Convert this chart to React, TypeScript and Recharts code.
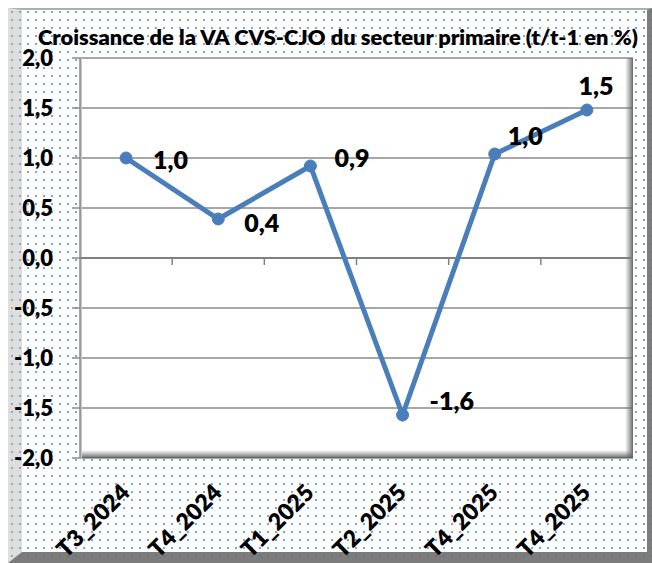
import React from 'react';
import {
  LineChart,
  Line,
  XAxis,
  YAxis,
  CartesianGrid,
  ReferenceLine,
  ReferenceArea,
  LabelList,
} from 'recharts';

const categories = ['T3_2024', 'T4_2024', 'T1_2025', 'T2_2025', 'T4_2025', 'T4_2025'];
const growth = [1.0, 0.39, 0.92, -1.57, 1.04, 1.48];
const yTicks = [-2, -1.5, -1, -0.5, 0, 0.5, 1, 1.5, 2];
const title = 'Croissance de la VA CVS-CJO du secteur primaire (t/t-1 en %)';

const FONT = 'Lato, "Open Sans", sans-serif';
const BLUE = '#4a7ebb';
const GRID = '#8a8a8a';

// label placement (style only)
const labelPlacement = [
  { dx: 27, dy: 1, anchor: 'start' },
  { dx: 26, dy: 3, anchor: 'start' },
  { dx: 24, dy: -9, anchor: 'start' },
  { dx: 27, dy: -15, anchor: 'start' },
  { dx: 13, dy: -19, anchor: 'start' },
  { dx: 9, dy: -25, anchor: 'middle' },
];

const data = categories.map((c, i) => ({ idx: i, cat: c, value: growth[i] }));
const boundaries = categories.slice(1).map((_, i) => i + 0.5);

const fmt = (v: number) => v.toFixed(1).replace('.', ',');

const XTick = (props: any) => {
  const { x, y, payload } = props;
  const label = categories[payload.value] ?? '';
  const tx = x + 5;
  const ty = y + 28;
  return (
    <text
      x={tx}
      y={ty}
      transform={`rotate(-45, ${tx}, ${ty})`}
      textAnchor="end"
      fill="#000"
      fontFamily={FONT}
      fontWeight={800}
      fontSize={23}
    >
      {label}
    </text>
  );
};

const DataLabel = (props: any) => {
  const { x, y, value } = props;
  let index = props.index;
  if (index === undefined || index === null) index = growth.indexOf(value);
  const p = labelPlacement[index] || labelPlacement[0];
  return (
    <text
      x={x + p.dx}
      y={y + p.dy}
      textAnchor={p.anchor}
      dominantBaseline="central"
      fill="#000"
      fontFamily={FONT}
      fontWeight={800}
      fontSize={25}
    >
      {fmt(Number(value))}
    </text>
  );
};

const Bevel = (props: any) => {
  const { x, y, width, height } = props;
  if (x === undefined) return null;
  return (
    <g>
      <defs>
        <linearGradient id="bevelR" x1="0" y1="0" x2="1" y2="0">
          <stop offset="0" stopColor="#777" stopOpacity={0} />
          <stop offset="1" stopColor="#5e5e5e" stopOpacity={0.95} />
        </linearGradient>
        <linearGradient id="bevelB" x1="0" y1="0" x2="0" y2="1">
          <stop offset="0" stopColor="#777" stopOpacity={0} />
          <stop offset="1" stopColor="#5e5e5e" stopOpacity={0.95} />
        </linearGradient>
      </defs>
      <rect x={x + width - 8} y={y} width={8} height={height} fill="url(#bevelR)" />
      <rect x={x} y={y + height - 8} width={width} height={8} fill="url(#bevelB)" />
      <rect x={x} y={y} width={2} height={height} fill="#c8c8c8" />
    </g>
  );
};

export default function App() {
  return (
    <div
      style={{
        position: 'absolute',
        left: 8,
        top: 8,
        width: 644,
        height: 555,
        overflow: 'hidden',
      }}
    >
      <div
        style={{
          position: 'absolute',
          inset: 0,
          boxSizing: 'border-box',
          backgroundColor: '#fff',
          backgroundImage:
            'radial-gradient(circle at 4px 4px, #78a6e4 0, #78a6e4 1px, rgba(120,166,228,0) 1.6px)',
          backgroundSize: '8px 8px',
          backgroundOrigin: 'border-box',
          borderLeft: '14px solid rgba(170,170,170,0.4)',
          borderTop: '2px solid rgba(140,140,140,0.7)',
          borderRight: '5px solid rgba(110,110,110,0.9)',
          borderBottom: '11px solid rgba(110,110,110,0.9)',
        }}
      />
      <svg
        width={644}
        height={60}
        style={{ position: 'absolute', left: 0, top: 0 }}
      >
        <text
          x={330}
          y={37}
          textAnchor="middle"
          fontFamily={FONT}
          fontWeight={800}
          fontSize={20}
          fill="#000"
          textLength={600}
          lengthAdjust="spacingAndGlyphs"
        >
          {title}
        </text>
      </svg>
      <div style={{ position: 'absolute', left: 0, top: 0 }}>
        <LineChart
          width={644}
          height={555}
          data={data}
          margin={{ top: 50, right: 19, bottom: 0, left: 0 }}
        >
          <CartesianGrid
            horizontal={true}
            vertical={false}
            stroke={GRID}
            strokeWidth={1.5}
            fill="#ffffff"
            fillOpacity={1}
          />
          <ReferenceArea
            x1={-0.5}
            x2={5.5}
            y1={-2}
            y2={2}
            shape={Bevel}
            ifOverflow="visible"
          />
          <XAxis
            dataKey="idx"
            type="number"
            domain={[-0.5, 5.5]}
            ticks={[0, 1, 2, 3, 4, 5]}
            interval={0}
            axisLine={false}
            tickLine={false}
            height={105}
            tick={<XTick />}
          />
          <YAxis
            type="number"
            domain={[-2, 2]}
            ticks={yTicks}
            interval={0}
            width={72}
            tickSize={8}
            tickMargin={19}
            tickFormatter={fmt}
            axisLine={{ stroke: GRID, strokeWidth: 1.5 }}
            tickLine={{ stroke: GRID, strokeWidth: 1.5 }}
            tick={{ fill: '#000', fontFamily: FONT, fontWeight: 800, fontSize: 22 }}
          />
          <ReferenceLine y={0} stroke="#808080" strokeWidth={2} />
          {boundaries.map((b) => (
            <ReferenceLine
              key={b}
              segment={[
                { x: b, y: 0 },
                { x: b, y: -0.07 },
              ]}
              stroke="#808080"
              strokeWidth={1.5}
            />
          ))}
          <Line
            type="linear"
            dataKey="value"
            stroke={BLUE}
            strokeWidth={5}
            dot={{ r: 6, fill: BLUE, stroke: BLUE, strokeWidth: 1 }}
            activeDot={false}
            isAnimationActive={false}
          >
            <LabelList dataKey="value" content={<DataLabel />} />
          </Line>
        </LineChart>
      </div>
    </div>
  );
}
